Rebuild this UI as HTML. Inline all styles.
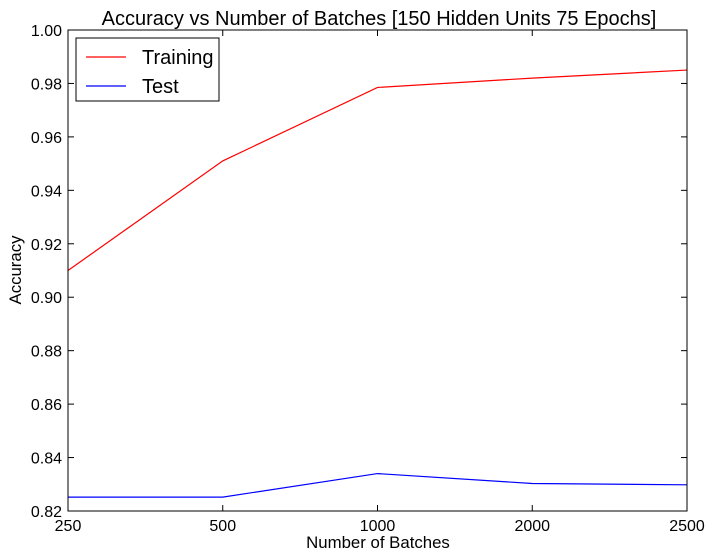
<!DOCTYPE html>
<html><head><meta charset="utf-8">
<style>
html,body{margin:0;padding:0;background:#fff;}
svg{display:block;font-family:"Liberation Sans",Arial,sans-serif;}
</style></head>
<body>
<svg id="chart" width="716" height="558" viewBox="0 0 716 558" xmlns="http://www.w3.org/2000/svg">
<rect width="716" height="558" fill="#fff"/>
<text x="379" y="25" text-anchor="middle" font-size="20">Accuracy vs Number of Batches [150 Hidden Units 75 Epochs]</text>
<text x="378" y="548" text-anchor="middle" font-size="16.8">Number of Batches</text>
<text transform="translate(21,270) rotate(-90)" text-anchor="middle" font-size="16.8">Accuracy</text>
<g id="ticks"></g>
<g id="series"></g>
<rect x="68" y="30" width="619" height="481" fill="none" stroke="#000" stroke-width="1"/>
<g>
<rect x="76" y="38" width="143" height="63" fill="#fff" stroke="#000" stroke-width="1"/>
<line x1="86" y1="57" x2="126" y2="57" stroke="#ff0000" stroke-width="1.2"/>
<text x="142" y="64" font-size="20">Training</text>
<line x1="86" y1="86" x2="126" y2="86" stroke="#0000ff" stroke-width="1.2"/>
<text x="142" y="93" font-size="20">Test</text>
</g>
</svg>
<script>
const categories = ["250","500","1000","2000","2500"];
const trainingValues = [0.910, 0.951, 0.9785, 0.982, 0.985];
const testValues = [0.8252, 0.8252, 0.8340, 0.8303, 0.8298];
const yTicks = [0.82,0.84,0.86,0.88,0.90,0.92,0.94,0.96,0.98,1.00];
const yTickLabels = ["0.82","0.84","0.86","0.88","0.90","0.92","0.94","0.96","0.98","1.00"];

const L=68,R=687,T=30,B=511;
const xS=i=>L+i*(R-L)/(categories.length-1);
const yS=v=>B-(v-0.82)/(1.0-0.82)*(B-T);
const NS="http://www.w3.org/2000/svg";
const tg=document.getElementById('ticks');
function mk(tag,attrs,parent){const e=document.createElementNS(NS,tag);for(const k in attrs)e.setAttribute(k,attrs[k]);parent.appendChild(e);return e;}
yTicks.forEach((v,i)=>{
  const y=yS(v);
  const a=mk('line',{x1:L,y1:y,x2:L+6,y2:y,stroke:'#000'},tg);
  
  
  mk('line',{x1:R-6,y1:y,x2:R,y2:y,stroke:'#000'},tg);
  const t=mk('text',{x:L-6,y:y+6,'text-anchor':'end','font-size':16},tg);
  t.textContent=yTickLabels[i];
  
  
});
categories.forEach((c,i)=>{
  const x=xS(i);
  mk('line',{x1:x,y1:B,x2:x,y2:B-6,stroke:'#000'},tg);
  mk('line',{x1:x,y1:T,x2:x,y2:T+6,stroke:'#000'},tg);
  const t=mk('text',{x:x,y:B+20,'text-anchor':'middle','font-size':16},tg);
  t.textContent=c;
  
  
});
const sg=document.getElementById('series');
function line(vals,color,name){
  const p=mk('polyline',{points:vals.map((v,i)=>xS(i)+','+yS(v)).join(' '),fill:'none',stroke:color,'stroke-width':1.2},sg);
  
  
}
line(trainingValues,'#ff0000','training-line');
line(testValues,'#0000ff','test-line');
</script>
</body></html>
